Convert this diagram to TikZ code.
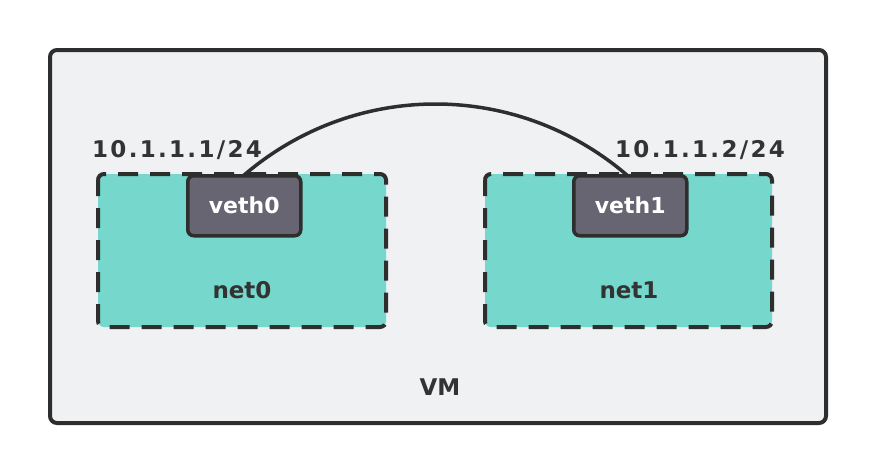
\documentclass[tikz,border=0pt]{standalone}
\usepackage{fontspec}
\setmainfont{DejaVu Sans}
\begin{document}
\begin{tikzpicture}[x=1pt,y=-1pt,
  lbl/.style={font=\bfseries\fontsize{23}{26}\selectfont, text=textdark, inner sep=0pt},
  iplbl/.style={lbl, font=\bfseries\fontsize{23}{26}\selectfont\addfontfeature{LetterSpace=10}},
  netbox/.style={draw=linedark, fill=netfill, line width=4pt, dash pattern=on 20pt off 12pt, dash phase=4pt, rounded corners=6pt},
  vethbox/.style={draw=linedark, fill=vethfill, line width=3.5pt, rounded corners=6pt},
  vmbox/.style={draw=linedark, fill=vmfill, line width=4pt, rounded corners=7pt}]
\definecolor{textdark}{HTML}{333333}
\definecolor{linedark}{HTML}{2E2E2E}
\definecolor{netfill}{HTML}{76D8CC}
\definecolor{vethfill}{HTML}{676571}
\definecolor{vmfill}{HTML}{F0F1F3}
\useasboundingbox (0,0) rectangle (876,474);
\fill[white] (0,0) rectangle (876,474);
\draw[vmbox] (50,50) rectangle (826,423);
\node[lbl] (vm) at (440,387) {VM};
% net boxes
\draw[netbox] (98,174) rectangle (386,327);
\draw[netbox] (485,174) rectangle (772,327);
\node[lbl] (net0) at (242,290) {net0};
\node[lbl] (net1) at (629,290) {net1};
% curve (drawn below veth boxes)
\coordinate (c0) at (243,176);
\coordinate (c1) at (628,176);
\draw[linedark, line width=3.5pt] (c0) .. controls (354,80) and (517,80) .. (c1);
% veth boxes
\node[vethbox, minimum width=113pt, minimum height=60pt, anchor=north west] (veth0) at (186,174) {};
\node[vethbox, minimum width=113pt, minimum height=60pt, anchor=north west] (veth1) at (572,174) {};
\node[lbl, text=white, font=\bfseries\fontsize{22}{25}\selectfont] at (veth0.center) {veth0};
\node[lbl, text=white, font=\bfseries\fontsize{22}{25}\selectfont] at (veth1.center) {veth1};
% IP labels
\node[iplbl] (ip0) at (177,150) {10.1.1.1/24};
\node[iplbl] (ip1) at (700,150) {10.1.1.2/24};
\end{tikzpicture}
\end{document}
